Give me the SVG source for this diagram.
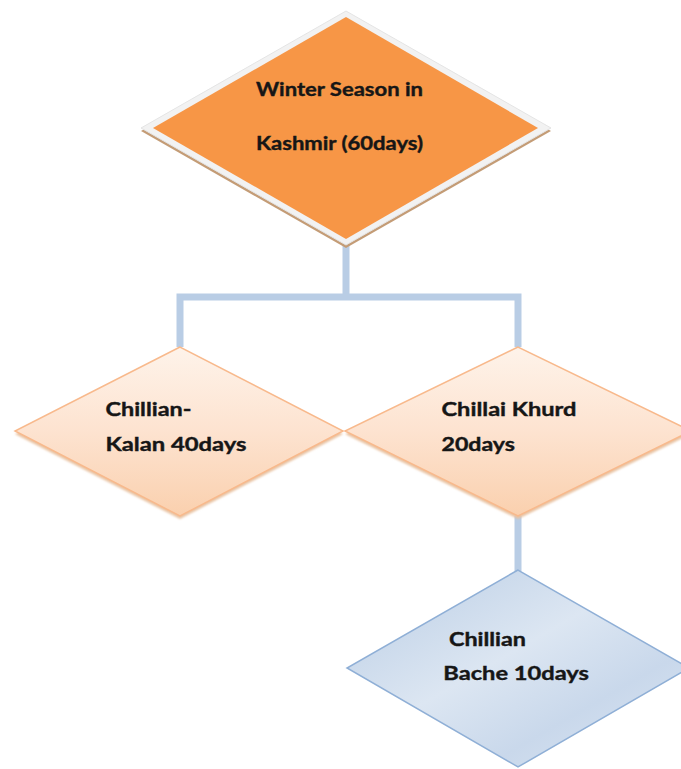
<svg xmlns="http://www.w3.org/2000/svg" width="681" height="769" viewBox="0 0 681 769">
<defs>
<linearGradient id="peach" x1="0" y1="0" x2="0" y2="1">
<stop offset="0" stop-color="#FEF3EA"/>
<stop offset="0.5" stop-color="#FDE3D0"/>
<stop offset="1" stop-color="#FAD0AE"/>
</linearGradient>
<linearGradient id="blue" x1="0" y1="0" x2="1" y2="1">
<stop offset="0" stop-color="#B8CCE4"/>
<stop offset="0.45" stop-color="#DCE6F2"/>
<stop offset="0.7" stop-color="#C9D8EB"/>
<stop offset="1" stop-color="#DDE7F3"/>
</linearGradient>
<filter id="blur" x="-10%" y="-10%" width="120%" height="120%"><feGaussianBlur stdDeviation="1.2"/></filter>
</defs>
<style>
.lbl{font-family:Lato,"Open Sans","Liberation Sans",sans-serif;font-weight:bold;font-size:19px;fill:#161616;stroke:#161616;stroke-width:0.4}
.conn{fill:none;stroke:#B9CDE5;stroke-width:7;stroke-linejoin:miter}
.peach{fill:url(#peach);stroke:#F8B98C;stroke-width:1.5}
.pshadow{fill:#E9C3A2;filter:url(#blur)}
</style>
<rect width="681" height="769" fill="#FFFFFF"/>
<g id="connectors">
<polyline class="conn" points="346,244 346,297"/>
<polyline class="conn" points="180,347 180,297 518,297 518,347"/>
<polyline class="conn" points="518,516 518,571"/>
</g>
<g id="winter">
<polygon points="346,15 141,131 346,248 551,131" fill="#C49C76"/>
<polygon points="346,11 141,128 346,245 551,128" fill="#F2F2F2" stroke="#E4E4E4" stroke-width="1"/>
<polygon points="346,17 153,128 346,239 538,128" fill="#F79646"/>
<text class="lbl" x="256" y="96" textLength="167" lengthAdjust="spacingAndGlyphs">Winter Season in</text>
<text class="lbl" x="256" y="150" textLength="167" lengthAdjust="spacingAndGlyphs">Kashmir (60days)</text>
</g>
<g id="kalan">
<polygon class="pshadow" points="180,350 15,434 180,519 343,434"/>
<polygon class="peach" points="180,347 15,431 180,516 343,431"/>
<text class="lbl" x="105.5" y="416" textLength="86" lengthAdjust="spacingAndGlyphs">Chillian-</text>
<text class="lbl" x="105.5" y="451" textLength="141" lengthAdjust="spacingAndGlyphs">Kalan 40days</text>
</g>
<g id="khurd">
<polygon class="pshadow" points="518,350 345,434 518,519 691,434"/>
<polygon class="peach" points="518,347 345,431 518,516 691,431"/>
<text class="lbl" x="441.5" y="416" textLength="135" lengthAdjust="spacingAndGlyphs">Chillai Khurd</text>
<text class="lbl" x="441.5" y="451" textLength="73.5" lengthAdjust="spacingAndGlyphs">20days</text>
</g>
<g id="bache">
<polygon points="518,570 347,668 518,767 689,668" fill="url(#blue)" stroke="#8FAFD6" stroke-width="1.5"/>
<text class="lbl" x="449" y="646" textLength="77" lengthAdjust="spacingAndGlyphs">Chillian</text>
<text class="lbl" x="443.3" y="680" textLength="145.7" lengthAdjust="spacingAndGlyphs">Bache 10days</text>
</g>
</svg>
